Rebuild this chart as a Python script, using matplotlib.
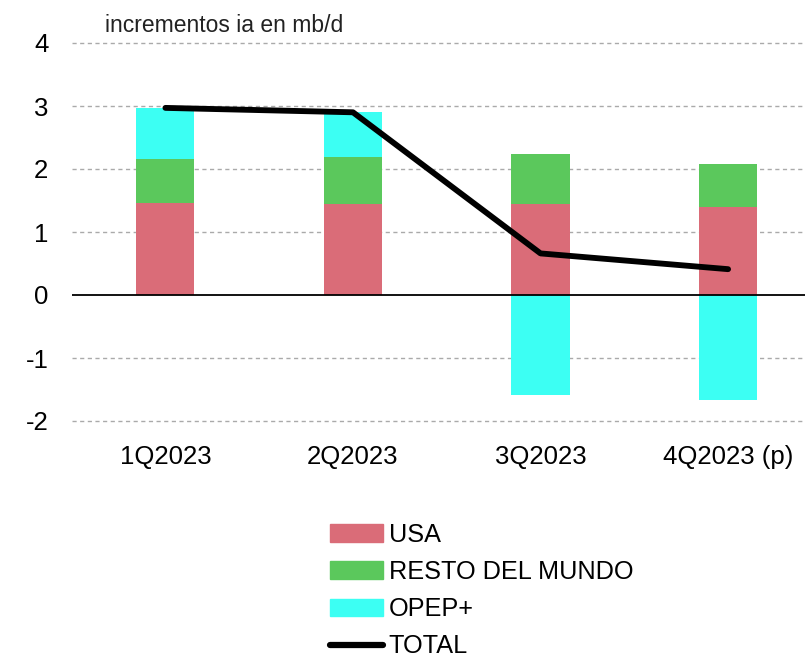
import numpy as np
import matplotlib.pyplot as plt
from matplotlib.patches import Patch
from matplotlib.lines import Line2D

plt.rcParams['font.family'] = ['Liberation Sans', 'DejaVu Sans']

# datos (mb/d)
trimestres = ['1Q2023', '2Q2023', '3Q2023', '4Q2023 (p)']
usa = [1.46, 1.44, 1.44, 1.40]
resto = [0.70, 0.75, 0.80, 0.68]
opep = [0.81, 0.71, -1.58, -1.67]
total = [2.97, 2.90, 0.66, 0.41]

c_usa = '#da6c78'
c_resto = '#5bc85c'
c_opep = '#3cfff3'

fig = plt.figure(figsize=(8.05, 6.57), dpi=100)
ax = fig.add_axes([72/805, 1 - 421/657, 1 - 72/805, (421 - 43)/657])

x = np.arange(len(trimestres))
w = 0.31
usa = np.array(usa)
resto = np.array(resto)
opep = np.array(opep)

ax.bar(x, usa, w, color=c_usa, zorder=2)
ax.bar(x, resto, w, bottom=usa, color=c_resto, zorder=2)
# OPEP+: encima si positivo, debajo de cero si negativo
base_opep = np.where(opep > 0, usa + resto, 0)
ax.bar(x, opep, w, bottom=base_opep, color=c_opep, zorder=2)
ax.plot(x, total, color='black', lw=4.2, solid_capstyle='round', solid_joinstyle='round', zorder=3)

ax.set_ylim(-2, 4)
ax.set_xlim(-0.498, 3.41)
ax.set_yticks([-2, -1, 0, 1, 2, 3, 4])
ax.set_yticklabels(['-2', '-1', '0', '1', '2', '3', '4'])
ax.set_xticks(x)
ax.set_xticklabels(trimestres)
ax.tick_params(length=0, labelsize=18.5)
ax.tick_params(axis='y', pad=17)
ax.tick_params(axis='x', pad=17)
for yv in [-2, -1, 1, 2, 3, 4]:
    ax.axhline(yv, color='#aaaaaa', lw=1, ls=(0, (3, 2.5)), zorder=1, clip_on=False)
ax.axhline(0, color='black', lw=1.3, zorder=4)
for s in ax.spines.values():
    s.set_visible(False)

fig.text(105/805, 1 - 25/657, 'incrementos ia en mb/d', fontsize=16.5, va='center', ha='left', color='#222222')

handles = [Patch(color=c_usa), Patch(color=c_resto), Patch(color=c_opep),
           Line2D([0], [0], color='black', lw=4.5, solid_capstyle='round')]
labels = ['USA', 'RESTO DEL MUNDO', 'OPEP+', 'TOTAL']
fig.legend(handles, labels, loc='upper left', bbox_to_anchor=(330/805, 1 - 523/657),
           frameon=False, fontsize=18.2, handlelength=2.1, handleheight=0.7,
           handletextpad=0.22, labelspacing=0.52, borderpad=0, borderaxespad=0)

fig.savefig('out.png', dpi=100)
